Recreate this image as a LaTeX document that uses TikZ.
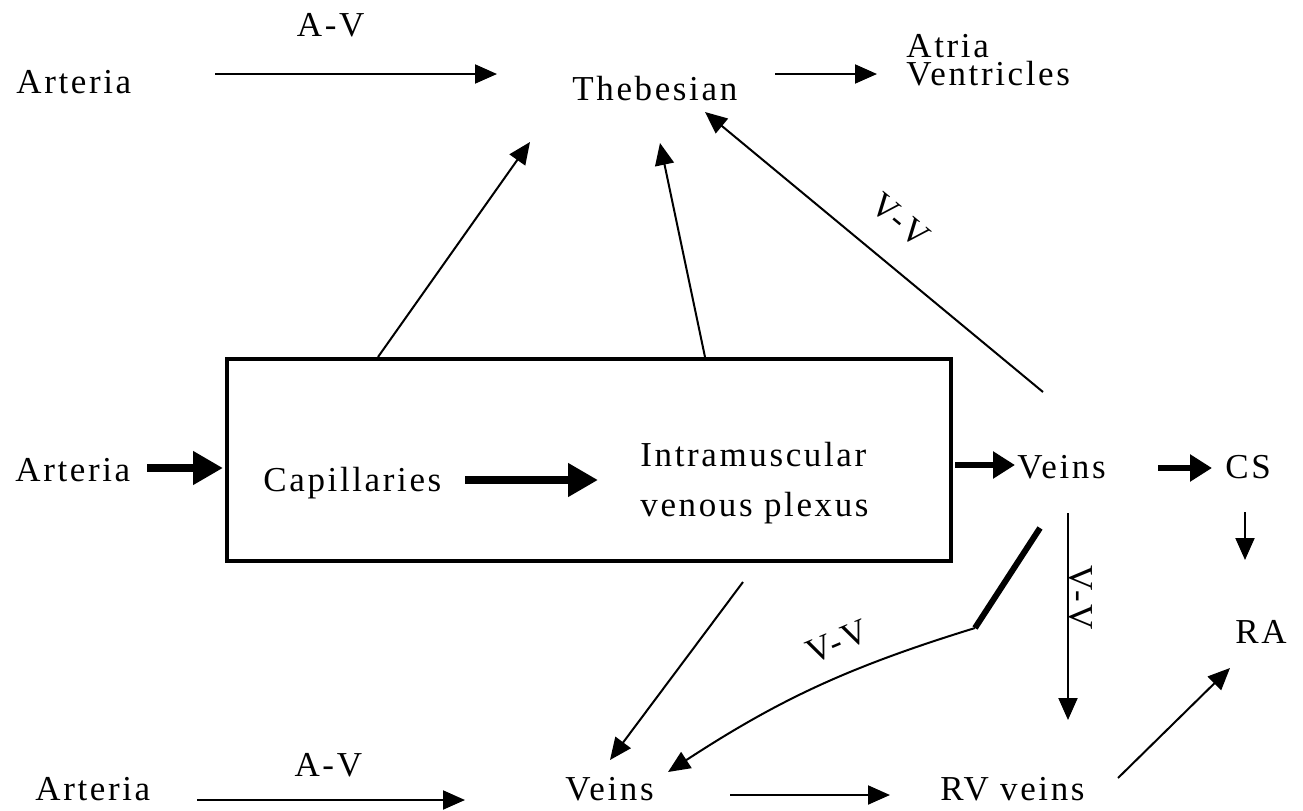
\documentclass[tikz,border=0pt]{standalone}
\usepackage{fontspec}
\setmainfont{Liberation Serif}[LetterSpace=7.5]
\usetikzlibrary{arrows.meta}

\tikzset{
  txt/.style={inner sep=0pt, anchor=base west},
  vvlbl/.style={inner sep=0pt},
  flow/.style={line width=1pt, -{Triangle[length=11pt,width=9.5pt]}},
  bigflow/.style={line width=4pt, -{Triangle[length=15pt,width=16pt]}},
  midflow/.style={line width=3pt, -{Triangle[length=11pt,width=13pt]}}
}

\begin{document}
\begin{tikzpicture}[x=0.5pt, y=-0.5pt, font=\fontsize{17.5}{21}\selectfont]
\useasboundingbox (0,0) rectangle (1303,810);

% top row
\node[txt] (arttop) at (16,93) {Arteria};
\node[txt] (theb) at (572,100) {Thebesian};
\node[inner sep=0pt, anchor=north west, align=left,
      font=\fontsize{17.5}{14}\selectfont] (atr) at (906,34) {Atria\\Ventricles};

% the muscle box
\node[draw, line width=2pt, minimum width=362pt, minimum height=101pt,
      inner sep=0pt] (bed) at (589,460) {};
\node[txt] (artmid) at (15,481) {Arteria};
\node[txt] (cap) at (263,491) {Capillaries};
\node[inner sep=0pt, anchor=north west, align=left,
      font=\fontsize{17.5}{25}\selectfont] (imv) at (640,442) {Intramuscular\\venous plexus};

% right side
\node[txt] (vr) at (1017,478) {Veins};
\node[txt] (cs) at (1225,478) {CS};
\node[txt] (ra) at (1235,643) {RA};
\coordinate (kink) at (975,628);

% bottom row
\node[txt] (artbot) at (35,800) {Arteria};
\node[txt] (vb) at (565,800) {Veins};
\node[txt] (rv) at (940,800) {RV veins};

% connectors
\draw[flow] ([shift={(199,-19)}]arttop.base west) -- ([shift={(-75,-26)}]theb.base west)
  node[vvlbl, pos=0.41, above=18pt] {A-V};
\draw[flow] ([shift={(203,-26)}]theb.base west) -- ([shift={(-29,40)}]atr.north west);
\draw[flow] ([shift={(153,0)}]bed.north west) -- ([shift={(-42,42)}]theb.base west);
\draw[flow] ([shift={(480,0)}]bed.north west) -- ([shift={(88,43)}]theb.base west);
\draw[flow] ([shift={(26,-86)}]vr.base west) -- ([shift={(133,12)}]theb.base west)
  node[vvlbl, pos=0.5, sloped, above=14pt] {V-V};

\draw[bigflow] ([shift={(132,-13)}]artmid.base west) -- ([shift={(-2,8)}]bed.west);
\draw[bigflow] ([shift={(202,-11)}]cap.base west) -- ([shift={(-42,38)}]imv.north west);
\draw[midflow] ([shift={(2,5)}]bed.east) -- ([shift={(-2,-13)}]vr.base west);
\draw[midflow] ([shift={(141,-10)}]vr.base west) -- ([shift={(-13,-10)}]cs.base west);
\draw[flow] ([shift={(20,34)}]cs.base west) -- ([shift={(10,-83)}]ra.base west);

\draw[flow] ([shift={(51,35)}]vr.base west) -- ([shift={(128,-80)}]rv.base west)
  node[vvlbl, pos=0.41, sloped, above=0pt] {V-V};
\draw[line width=3pt] ([shift={(23,50)}]vr.base west) -- (kink);
\draw[flow] (kink) to[bend right=8]
  node[vvlbl, pos=0.38, sloped, above=10pt] {V-V} ([shift={(103,-28)}]vb.base west);
\draw[flow] ([shift={(518,19)}]bed.south west) -- ([shift={(45,-40)}]vb.base west);

\draw[flow] ([shift={(162,0)}]artbot.base west) -- ([shift={(-100,0)}]vb.base west)
  node[vvlbl, pos=0.49, above=11pt] {A-V};
\draw[flow] ([shift={(165,-5)}]vb.base west) -- ([shift={(-50,-5)}]rv.base west);
\draw[flow] ([shift={(178,-22)}]rv.base west) -- ([shift={(-5,25)}]ra.base west);
\end{tikzpicture}
\end{document}
